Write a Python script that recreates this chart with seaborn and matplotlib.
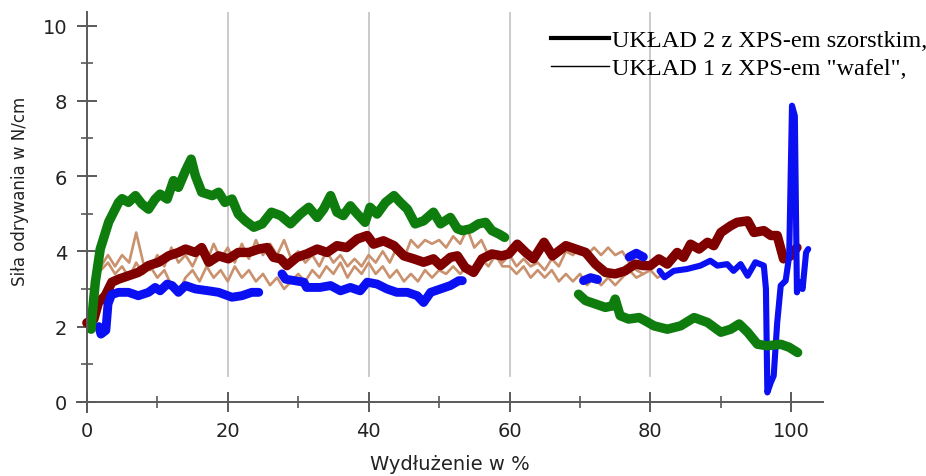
import matplotlib
matplotlib.use("Agg")
import matplotlib.pyplot as plt
from matplotlib.lines import Line2D
import seaborn as sns
import pandas as pd

# ---------------- data ----------------
green_x1 = [0.6, 0.9, 1.2, 1.9, 3.1, 4.5, 5.0, 5.9, 6.9, 7.8, 8.75, 9.7, 10.4, 11.4, 12.3, 13.0, 14.0, 14.8,
            15.4, 16.3, 17.8, 18.7, 19.6, 20.6, 21.5, 22.5, 23.7, 24.9, 26.2, 27.5, 28.9, 30.3, 31.5, 32.7,
            33.6, 34.6, 35.5, 36.4, 37.4, 38.4, 39.5, 40.2, 41.2, 42.4, 43.6, 44.5, 45.5, 46.6, 47.8, 49.2,
            50.2, 51.6, 52.6, 53.3, 54.5, 55.6, 56.6, 57.5, 58.5, 59.3]
green_y1 = [1.93, 2.6, 3.18, 4.06, 4.78, 5.3, 5.4, 5.3, 5.48, 5.26, 5.12, 5.39, 5.52, 5.39, 5.88, 5.7, 6.14, 6.45,
            6.01, 5.57, 5.48, 5.57, 5.3, 5.39, 4.99, 4.81, 4.64, 4.73, 5.04, 4.95, 4.73, 4.99, 5.17, 4.9,
            5.12, 5.48, 5.04, 4.95, 5.21, 4.99, 4.77, 5.17, 4.99, 5.3, 5.48, 5.3, 5.12, 4.73, 4.81, 5.04,
            4.73, 4.9, 4.6, 4.55, 4.6, 4.73, 4.77, 4.55, 4.46, 4.37]
green_x2 = [69.8, 70.8, 72.2, 73.6, 74.6, 75.0, 75.7, 76.9, 78.4, 79.3, 80.5, 82.4, 84.3, 86.2, 88.1, 90.0,
            91.4, 92.6, 93.8, 95.2, 96.6, 98.5, 99.7, 100.9]
green_y2 = [2.86, 2.69, 2.6, 2.51, 2.55, 2.73, 2.29, 2.2, 2.24, 2.15, 2.02, 1.93, 2.02, 2.24, 2.11, 1.85,
            1.93, 2.07, 1.85, 1.53, 1.49, 1.53, 1.45, 1.31]

blue_x1 = [1.7, 2.0, 2.7, 3.0, 3.5, 4.5, 5.9, 7.3, 8.75, 9.7, 10.4, 11.4, 12.1, 13.0, 14.0, 15.4, 17.3, 18.7,
           20.6, 22.0, 23.4, 24.4]
blue_y1 = [2.0, 1.8, 1.9, 2.6, 2.85, 2.91, 2.91, 2.82, 2.91, 3.04, 2.95, 3.13, 3.09, 2.91, 3.09, 3.0, 2.95, 2.91,
           2.78, 2.82, 2.91, 2.91]
blue_x2 = [27.7, 28.2, 30.8, 31.2, 33.1, 34.6, 36.0, 37.4, 38.8, 39.8, 41.2, 42.6, 44.0, 45.5, 46.9, 47.8,
           48.8, 50.2, 51.6, 52.8, 53.3]
blue_y2 = [3.4, 3.26, 3.18, 3.04, 3.04, 3.09, 2.95, 3.04, 2.95, 3.18, 3.13, 3.0, 2.91, 2.91, 2.82, 2.64,
           2.91, 3.0, 3.09, 3.22, 3.22]
blue_x3 = [70.5, 71.5, 72.5]
blue_y3 = [3.22, 3.3, 3.25]
blue_x4 = [77.0, 78.0, 79.0]
blue_y4 = [3.85, 3.95, 3.85]
blue_x5 = [81.3, 82.0, 83.3, 85.2, 87.1, 88.5, 89.5, 90.9, 91.8, 92.8, 93.8, 94.9, 96.1, 96.4, 96.6, 97.1,
           97.5, 98.0, 98.5, 99.2, 99.7, 100.1, 100.5, 100.8, 101.2, 101.6, 102.1, 102.4]
blue_y5 = [3.48, 3.31, 3.48, 3.53, 3.62, 3.75, 3.62, 3.66, 3.48, 3.66, 3.35, 3.71, 3.62, 3.0, 0.25, 0.52,
           0.69, 2.11, 3.09, 3.22, 3.88, 7.87, 7.6, 2.91, 3.18, 3.0, 3.97, 4.06]

red_x = [0.0, 1.0, 1.65, 2.6, 3.55, 4.5, 5.9, 7.3, 8.75, 10.2, 11.6, 13.0, 14.0, 15.4, 16.3, 17.3, 18.7, 20.1,
         21.5, 23.0, 24.4, 25.6, 26.5, 27.5, 28.4, 29.8, 31.2, 32.7, 34.1, 35.5, 36.9, 38.4, 39.8, 40.7,
         42.1, 43.6, 45.0, 46.4, 47.8, 49.2, 50.2, 51.6, 52.6, 53.7, 54.9, 56.1, 57.5, 58.9, 59.9, 61.1,
         62.3, 63.4, 64.9, 66.1, 68.0, 69.4, 70.8, 72.2, 73.6, 75.0, 76.4, 77.8, 79.0, 80.0, 81.2, 82.4,
         83.8, 84.7, 85.7, 86.9, 88.1, 89.0, 90.0, 91.4, 92.3, 93.8, 94.7, 96.1, 97.1, 98.0, 98.9, 99.9, 100.8]
red_y = [2.1, 2.2, 2.64, 2.82, 3.18, 3.26, 3.35, 3.44, 3.62, 3.71, 3.88, 3.97, 4.06, 3.97, 4.1, 3.71, 3.88, 3.8,
         3.97, 3.97, 4.06, 4.1, 3.84, 3.8, 3.62, 3.84, 3.93, 4.06, 3.97, 4.15, 4.1, 4.33, 4.42, 4.19,
         4.28, 4.15, 3.88, 3.8, 3.71, 3.8, 3.62, 3.84, 3.88, 3.57, 3.44, 3.8, 3.93, 3.88, 3.93, 4.19,
         3.97, 3.8, 4.24, 3.88, 4.15, 4.06, 3.97, 3.66, 3.44, 3.4, 3.48, 3.66, 3.62, 3.62, 3.8, 3.66,
         3.97, 3.84, 4.19, 4.06, 4.24, 4.15, 4.5, 4.68, 4.77, 4.81, 4.5, 4.55, 4.42, 4.42, 3.8, 3.88, 4.1]

tanA_x = list(range(2, 83))
tanA_y = [3.6, 3.9, 3.6, 3.9, 3.7, 4.5, 3.7, 3.5, 3.9, 3.6, 4.1, 3.7, 3.9, 3.6, 4.0, 3.7, 4.2, 3.8, 4.1, 3.7,
          4.2, 3.8, 4.3, 3.9, 4.2, 3.9, 4.3, 3.8, 4.0, 3.7, 3.9, 3.6, 4.0, 3.7, 3.9, 3.6, 3.8, 3.6, 3.9, 3.7,
          4.0, 3.7, 4.1, 3.8, 4.3, 4.1, 4.3, 4.2, 4.3, 4.1, 4.4, 4.2, 4.6, 4.1, 4.3, 3.9, 4.0, 3.7, 3.9, 3.6,
          3.8, 3.6, 3.7, 3.5, 3.8, 3.6, 4.0, 3.9, 4.1, 3.9, 4.1, 3.9, 4.1, 3.9, 4.0, 3.7, 3.5, 3.4, 3.5, 3.3,
          3.4]
tanB_x = list(range(2, 80))
tanB_y = [3.5, 3.7, 3.4, 3.6, 3.3, 3.7, 3.4, 3.6, 3.3, 3.5, 3.1, 2.9, 3.3, 3.5, 3.2, 3.6, 3.3, 3.5, 3.2, 3.6,
          3.3, 3.5, 3.2, 3.4, 3.1, 3.3, 3.0, 3.2, 3.4, 3.2, 3.5, 3.3, 3.6, 3.4, 3.7, 3.3, 3.6, 3.4, 3.7, 3.4,
          3.6, 3.3, 3.5, 3.2, 3.4, 3.2, 3.5, 3.3, 3.5, 3.4, 3.6, 3.4, 3.6, 3.5, 3.8, 3.6, 3.9, 3.6, 3.6, 3.4,
          3.6, 3.3, 3.5, 3.3, 3.5, 3.2, 3.4, 3.2, 3.4, 3.1, 3.3, 3.1, 3.3, 3.1, 3.3, 3.5, 3.3, 3.4]

x_ticks = [0, 20, 40, 60, 80, 100]
x_minor = [10, 30, 50, 70, 90]
y_ticks = [0, 2, 4, 6, 8, 10]
y_minor = [1, 3, 5, 7, 9]
grid_x = [20, 40, 60, 80]
legend_labels = ["UKŁAD 2 z XPS-em szorstkim,", 'UKŁAD 1 z XPS-em "wafel",']
x_label = "Wydłużenie w %"
y_label = "Siła odrywania w N/cm"


def frame(*segs):
    rows = []
    for i, (xs, ys) in enumerate(segs):
        for a, b in zip(xs, ys):
            rows.append({"x": a, "y": b, "seg": i})
    return pd.DataFrame(rows)


# ---------------- figure ----------------
plt.rcParams["font.family"] = ["DejaVu Sans"]
fig = plt.figure(figsize=(9.26, 4.77), dpi=100)
ax = fig.add_axes([77 / 926, 1 - 413 / 477, 746 / 926, 400 / 477])
ax.set_xlim(-1.4, 104.5)
ax.set_ylim(-0.27, 10.36)

for gx in grid_x:
    ax.axvline(gx, ymin=0.089, ymax=1, color="#c6c6c6", lw=1.3, zorder=0.5)

common = dict(x="x", y="y", units="seg", estimator=None, sort=False, legend=False, ax=ax,
              solid_capstyle="round", solid_joinstyle="round")
tan = "#c9916d"
sns.lineplot(data=frame((tanB_x, tanB_y)), color=tan, linewidth=1.9, **common)
sns.lineplot(data=frame((tanA_x, tanA_y)), color=tan, linewidth=1.9, **common)
sns.lineplot(data=frame((red_x, red_y)), color="#800000", linewidth=6.8, **common)
sns.lineplot(data=frame((blue_x1, blue_y1), (blue_x2, blue_y2), (blue_x3, blue_y3), (blue_x4, blue_y4)),
             color="#0a10f2", linewidth=6.4, **common)
sns.lineplot(data=frame((blue_x5, blue_y5)), color="#0a10f2", linewidth=4.4, **common)
sns.lineplot(data=frame((green_x1, green_y1), (green_x2, green_y2)), color="#0e7d0e", linewidth=6.8, **common)

for s in ["top", "right"]:
    ax.spines[s].set_visible(False)
ax.spines["left"].set_position(("data", 0))
ax.spines["bottom"].set_position(("data", 0))
for s in ["left", "bottom"]:
    ax.spines[s].set_color("#5a5a5a")
    ax.spines[s].set_linewidth(1.4)

ax.set_xticks(x_ticks)
ax.set_xticks(x_minor, minor=True)
ax.set_yticks(y_ticks)
ax.set_yticks(y_minor, minor=True)
ax.tick_params(which="major", direction="inout", length=14, width=1.4, color="#5a5a5a",
               labelcolor="#222222", labelsize=14, pad=7)
ax.tick_params(which="minor", direction="inout", length=9, width=1.2, color="#5a5a5a")

ax.set_xlabel(x_label, fontsize=14, color="#222222", labelpad=10)
ax.set_ylabel(y_label, fontsize=12, color="#222222")
ax.yaxis.set_label_coords(-0.064, 0.555)

handles = [Line2D([], [], color="black", lw=3), Line2D([], [], color="black", lw=1)]
fig.legend(handles, legend_labels, loc="upper left", bbox_to_anchor=(551 / 926, 1 - 30 / 477),
           frameon=False, prop={"family": "Liberation Serif", "size": 17.5}, handlelength=2.4,
           handletextpad=0.12, labelspacing=0.26, borderpad=0, borderaxespad=0)

fig.savefig("out.png", dpi=100)
